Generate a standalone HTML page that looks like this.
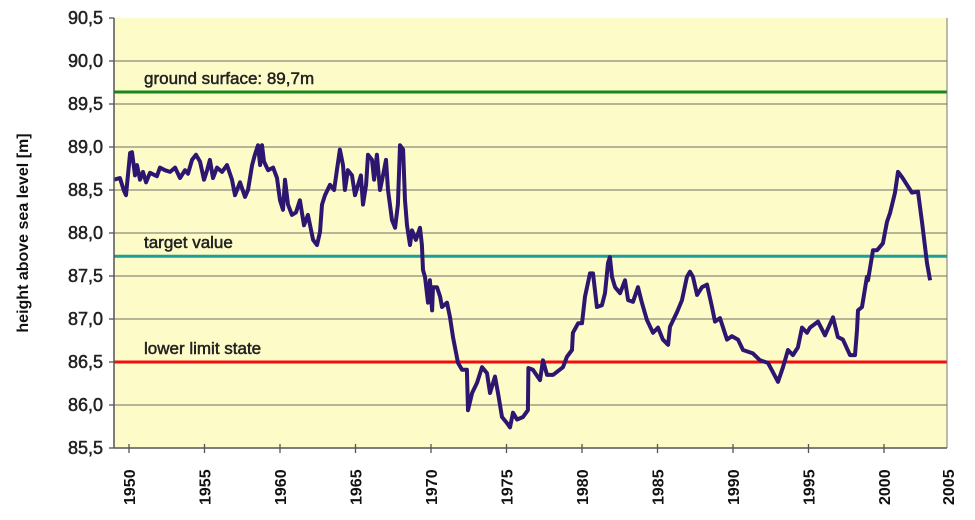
<!DOCTYPE html>
<html><head><meta charset="utf-8">
<style>
html,body{margin:0;padding:0;background:#fff;}
svg{display:block;font-family:"Liberation Sans",Arial,sans-serif;}
</style></head>
<body>
<svg id="chart" width="975" height="520" viewBox="0 0 975 520" xmlns="http://www.w3.org/2000/svg">
  <rect x="114" y="18" width="833" height="430" fill="#fdfcc8"/>
  <g id="grid"></g>
  <g id="refs"></g>
  <g id="series"></g>
  <g id="axes"></g>
  <text transform="translate(28,233) rotate(-90)" text-anchor="middle" font-size="16" font-weight="bold" fill="#111">height above sea level [m]</text>
</svg>
<script>
const yTicks = [85.5, 86.0, 86.5, 87.0, 87.5, 88.0, 88.5, 89.0, 89.5, 90.0, 90.5];
const yTickLabels = ["85,5","86,0","86,5","87,0","87,5","88,0","88,5","89,0","89,5","90,0","90,5"];
const xTicks = [1950,1955,1960,1965,1970,1975,1980,1985,1990,1995,2000,2005];
const xTickLabels = ["1950","1955","1960","1965","1970","1975","1980","1985","1990","1995","2000","2005"];
const refValues = [89.64, 87.73, 86.5];
const refLabels = ["ground surface: 89,7m", "target value", "lower limit state"];
const years = [1949.0,1949.4,1949.67,1949.8,1950.07,1950.2,1950.4,1950.53,1950.73,1950.93,1951.13,1951.39,1951.85,1952.05,1952.38,1952.72,1953.05,1953.38,1953.71,1953.91,1954.17,1954.44,1954.7,1954.97,1955.17,1955.36,1955.56,1955.83,1956.16,1956.49,1956.82,1957.02,1957.35,1957.68,1957.88,1958.15,1958.34,1958.54,1958.68,1958.81,1958.94,1959.21,1959.54,1959.8,1960.0,1960.2,1960.33,1960.53,1960.79,1961.06,1961.32,1961.59,1961.85,1962.19,1962.45,1962.65,1962.78,1962.98,1963.31,1963.58,1963.77,1963.97,1964.17,1964.3,1964.5,1964.77,1964.97,1965.17,1965.36,1965.5,1965.7,1965.83,1966.09,1966.23,1966.42,1966.62,1966.82,1967.02,1967.15,1967.42,1967.62,1967.81,1967.95,1968.15,1968.28,1968.41,1968.61,1968.74,1969.0,1969.27,1969.4,1969.47,1969.6,1969.8,1969.93,1970.07,1970.13,1970.4,1970.6,1970.73,1971.06,1971.26,1971.46,1971.79,1972.05,1972.38,1972.45,1972.72,1973.05,1973.38,1973.71,1973.91,1974.24,1974.44,1974.7,1975.03,1975.23,1975.43,1975.7,1976.09,1976.42,1976.45,1976.75,1977.22,1977.42,1977.68,1978.08,1978.74,1979.0,1979.34,1979.4,1979.74,1980.0,1980.2,1980.53,1980.73,1980.99,1981.32,1981.52,1981.72,1981.85,1981.99,1982.19,1982.52,1982.85,1983.05,1983.38,1983.71,1983.97,1984.3,1984.7,1985.03,1985.36,1985.7,1985.83,1986.29,1986.62,1986.95,1987.15,1987.35,1987.62,1987.95,1988.28,1988.61,1988.81,1989.14,1989.6,1989.93,1990.33,1990.66,1991.32,1991.79,1992.32,1992.65,1992.98,1993.31,1993.64,1993.97,1994.3,1994.57,1994.9,1995.1,1995.63,1996.09,1996.62,1996.95,1997.28,1997.75,1998.08,1998.21,1998.28,1998.54,1998.87,1998.94,1999.27,1999.54,1999.93,2000.2,2000.4,2000.73,2000.93,2001.19,2001.85,2002.25,2002.52,2002.85,2003.05,2003.38];
const levels = [88.62,88.64,88.49,88.44,88.93,88.94,88.67,88.79,88.62,88.71,88.59,88.70,88.66,88.76,88.73,88.71,88.76,88.64,88.73,88.69,88.85,88.91,88.83,88.62,88.73,88.85,88.64,88.76,88.71,88.79,88.62,88.44,88.59,88.42,88.50,88.79,88.91,89.02,88.79,89.02,88.83,88.73,88.76,88.64,88.38,88.27,88.62,88.33,88.21,88.24,88.38,88.09,88.21,87.92,87.86,88.01,88.33,88.44,88.56,88.50,88.73,88.97,88.79,88.50,88.73,88.67,88.44,88.56,88.67,88.33,88.56,88.91,88.85,88.62,88.91,88.50,88.67,88.85,88.50,88.15,88.06,88.33,89.02,88.97,88.38,88.09,87.86,88.03,87.92,88.06,87.86,87.57,87.49,87.19,87.45,87.10,87.37,87.37,87.26,87.14,87.19,87.02,86.79,86.49,86.41,86.41,85.94,86.14,86.26,86.44,86.37,86.14,86.33,86.14,85.86,85.79,85.74,85.91,85.83,85.86,85.94,86.43,86.41,86.29,86.52,86.35,86.35,86.44,86.56,86.64,86.84,86.95,86.95,87.26,87.53,87.53,87.14,87.16,87.30,87.65,87.72,87.49,87.37,87.30,87.45,87.22,87.20,87.37,87.19,86.99,86.84,86.90,86.76,86.70,86.91,87.08,87.22,87.49,87.55,87.49,87.28,87.37,87.40,87.14,86.97,87.01,86.76,86.80,86.76,86.64,86.60,86.52,86.49,86.38,86.27,86.44,86.64,86.58,86.67,86.90,86.84,86.90,86.97,86.81,87.02,86.79,86.76,86.58,86.58,86.87,87.10,87.14,87.49,87.45,87.80,87.80,87.88,88.13,88.23,88.47,88.71,88.65,88.47,88.48,88.12,87.65,87.45];

const L=114,R=947,T=18,B=448;
function xs(yr){return 129 + (yr-1950)*15.1;}
function ys(v){return T + (90.5 - v)*86;}
const NS="http://www.w3.org/2000/svg";
function mk(tag,attrs,parent){const e=document.createElementNS(NS,tag);for(const k in attrs)e.setAttribute(k,attrs[k]);parent.appendChild(e);return e;}

const grid=document.getElementById('grid');
yTicks.forEach((t,i)=>{
  if(i>0 && i<yTicks.length-1){
    const gl=mk('line',{x1:L,x2:R,y1:ys(t),y2:ys(t),stroke:'#8a8a7a','stroke-width':1.3},grid);
    
    
  }
});
const refs=document.getElementById('refs');
const refColors=['#16891a','#1d9e9a','#f50c0c'];
refValues.forEach((v,i)=>{
  const ln=mk('line',{x1:L,x2:R,y1:ys(v),y2:ys(v),stroke:refColors[i],'stroke-width':3},refs);
  
  
  const tx=mk('text',{x:144,y:ys(v)-8,'font-size':17,fill:'#222',stroke:'#222','stroke-width':0.5},refs);
  tx.textContent=refLabels[i];
  
  
});
const series=document.getElementById('series');
let d='';
years.forEach((yr,i)=>{d+=(i?'L':'M')+xs(yr).toFixed(1)+','+ys(levels[i]).toFixed(1);});
const p=mk('path',{d:d,fill:'none',stroke:'#2d1670','stroke-width':4,'stroke-linejoin':'round'},series);



const axes=document.getElementById('axes');
const ya=mk('line',{x1:L,x2:L,y1:T,y2:B,stroke:'#555','stroke-width':1.5},axes);


const xa=mk('line',{x1:L,x2:R,y1:B,y2:B,stroke:'#555','stroke-width':1.5},axes);


const rb=mk('line',{x1:R,x2:R,y1:T,y2:B,stroke:'#777','stroke-width':1},axes);


yTicks.forEach((t,i)=>{
  const tk=mk('line',{x1:L-5,x2:L,y1:ys(t),y2:ys(t),stroke:'#555','stroke-width':1.3},axes);
  
  
  const tx=mk('text',{x:103,y:ys(t)+6,'text-anchor':'end','font-size':18,fill:'#222',stroke:'#222','stroke-width':0.5},axes);
  tx.textContent=yTickLabels[i];
  
  
});
xTicks.forEach((t,i)=>{
  let x=xs(t);
  if(x<=R){
    const tk=mk('line',{x1:x,x2:x,y1:B-4,y2:B+5,stroke:'#555','stroke-width':1.3},axes);
    
    
  } else { x=948; }
  const tx=mk('text',{transform:'translate('+(x+6)+',505) rotate(-90)','text-anchor':'start','font-size':16,'font-weight':'bold',fill:'#111'},axes);
  tx.textContent=xTickLabels[i];
  
  
});
</script>
</body></html>
